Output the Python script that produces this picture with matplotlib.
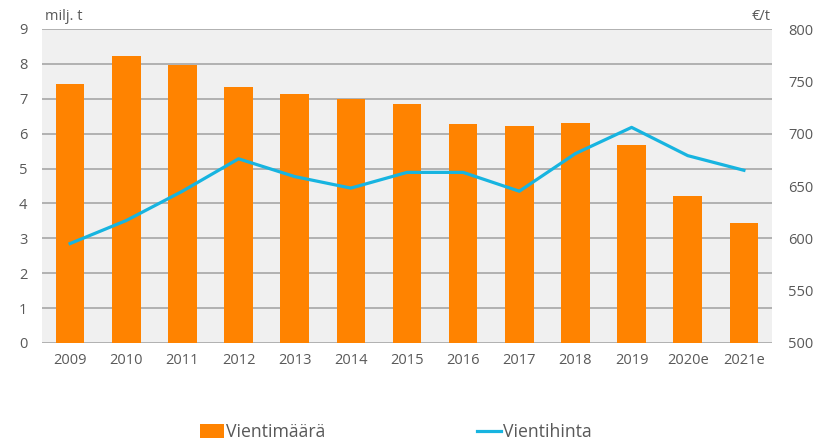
import matplotlib
matplotlib.use("Agg")
import matplotlib.pyplot as plt
import numpy as np
from matplotlib.patches import Patch
from matplotlib.lines import Line2D

years = ["2009", "2010", "2011", "2012", "2013", "2014", "2015", "2016",
         "2017", "2018", "2019", "2020e", "2021e"]
volume = [7.42, 8.24, 7.97, 7.35, 7.13, 6.99, 6.85, 6.29, 6.21, 6.32, 5.67, 4.21, 3.45]
price = [595, 617, 645, 676, 659, 648, 663, 663, 645, 681, 706, 679, 665]

plt.rcParams['font.family'] = ['Open Sans', 'DejaVu Sans']
txt = '#595959'
orange = '#FF8300'
blue = '#17B4E0'

fig = plt.figure(figsize=(8.18, 4.41), dpi=100)
ax = fig.add_axes([42/818, 98/441, 730/818, 314/441])
ax.set_facecolor('#F0F0F0')
x = np.arange(len(years))
ax.bar(x, volume, width=0.51, color=orange, zorder=3)
ax.set_ylim(0, 9)
ax.set_xlim(-0.5, len(years) - 0.5)
ax.set_yticks(range(0, 10))
ax.grid(axis='y', color='#A6A6A6', linewidth=1.2, zorder=1)
ax.set_axisbelow(True)
for s in ['top', 'left', 'right', 'bottom']:
    ax.spines[s].set_visible(False)
ax.set_xticks(x)
ax.set_xticklabels(years)
ax.tick_params(axis='both', length=0, colors=txt, labelsize=10.5)
ax.tick_params(axis='y', pad=10.5)
ax.tick_params(axis='x', pad=7.5)

ax2 = ax.twinx()
ax2.plot(x, price, color=blue, linewidth=2.3, zorder=4)
ax2.set_ylim(500, 800)
ax2.set_yticks(range(500, 801, 50))
for s in ['top', 'left', 'right', 'bottom']:
    ax2.spines[s].set_visible(False)
ax2.tick_params(axis='y', length=0, colors=txt, labelsize=10.5, pad=11.5)

fig.text(45/818, 1 - 17/441, 'milj. t', color=txt, fontsize=10.5, va='center', ha='left')
fig.text(771/818, 1 - 17/441, '€/t', color=txt, fontsize=10.5, va='center', ha='right')

handles = [Patch(facecolor=orange, edgecolor='none'),
           Line2D([0], [0], color=blue, linewidth=2.3)]
fig.legend(handles, ['Vientimäärä', 'Vientihinta'], loc='center',
           bbox_to_anchor=(396/818, 1 - 432/441), ncol=2, frameon=False,
           fontsize=12.7, labelcolor=txt, handlelength=1.35, handletextpad=0.12,
           columnspacing=8.6, handleheight=0.8)

fig.savefig('out.png', dpi=100)
